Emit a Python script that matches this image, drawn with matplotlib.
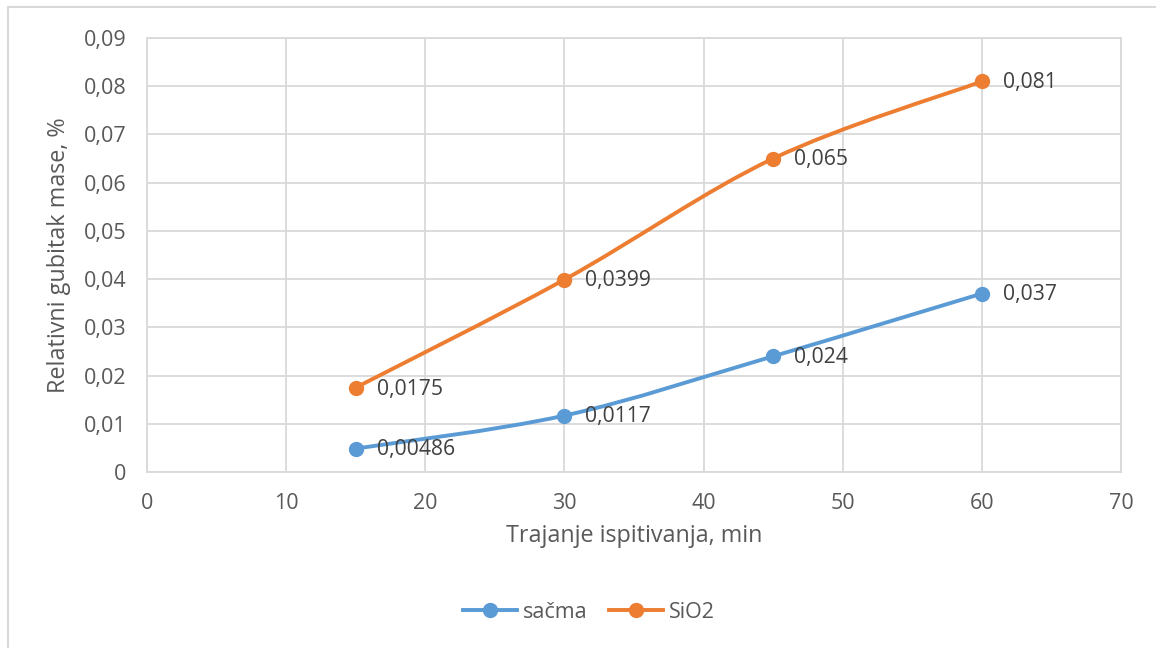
import matplotlib.pyplot as plt
from matplotlib.path import Path
from matplotlib.patches import PathPatch, Rectangle
from matplotlib.lines import Line2D

plt.rcParams['font.family'] = ['Open Sans', 'DejaVu Sans']

# data
x = [15, 30, 45, 60]
sacma = [0.00486, 0.0117, 0.024, 0.037]
sio2 = [0.0175, 0.0399, 0.065, 0.081]
sacma_labels = ['0,00486', '0,0117', '0,024', '0,037']
sio2_labels = ['0,0175', '0,0399', '0,065', '0,081']
xticks = [0, 10, 20, 30, 40, 50, 60, 70]
yticks = [0, 0.01, 0.02, 0.03, 0.04, 0.05, 0.06, 0.07, 0.08, 0.09]
ytick_labels = ['0', '0,01', '0,02', '0,03', '0,04', '0,05', '0,06', '0,07', '0,08', '0,09']

blue = '#5B9BD5'
orange = '#ED7D31'
txt = '#595959'
grid = '#D9D9D9'


def smooth_path(xs, ys):
    # excel-like smoothed line: bezier segments with catmull-rom control points
    pts = list(zip(xs, ys))
    verts = [pts[0]]
    codes = [Path.MOVETO]
    n = len(pts)
    for i in range(n - 1):
        p0 = pts[i - 1] if i > 0 else pts[i]
        p1 = pts[i]
        p2 = pts[i + 1]
        p3 = pts[i + 2] if i + 2 < n else pts[i + 1]
        c1 = (p1[0] + (p2[0] - p0[0]) / 6, p1[1] + (p2[1] - p0[1]) / 6)
        c2 = (p2[0] - (p3[0] - p1[0]) / 6, p2[1] - (p3[1] - p1[1]) / 6)
        verts += [c1, c2, p2]
        codes += [Path.CURVE4] * 3
    return Path(verts, codes)


fig = plt.figure(figsize=(11.56, 6.48), dpi=100)
fig.patches.append(Rectangle((8 / 1156, -0.1), 1.2, 1 - 7 / 648 + 0.1,
                             transform=fig.transFigure, fill=False,
                             edgecolor='#D9D9D9', linewidth=1.5))

ax = fig.add_axes([147 / 1156, 1 - 472 / 648, (1121 - 147) / 1156, (472 - 38) / 648])
ax.set_xlim(0, 70)
ax.set_ylim(0, 0.09)
ax.set_xticks(xticks)
ax.set_yticks(yticks)
ax.set_yticklabels(ytick_labels)
ax.grid(True, color=grid, linewidth=1.3)
ax.set_axisbelow(True)
for s in ax.spines.values():
    s.set_color(grid)
    s.set_linewidth(1.3)
ax.tick_params(length=0, labelsize=15.5, colors=txt)
ax.tick_params(axis='y', pad=15)
ax.tick_params(axis='x', pad=15)

for ys, labs, col, name in [(sacma, sacma_labels, blue, 'sačma'), (sio2, sio2_labels, orange, 'SiO2')]:
    ax.add_patch(PathPatch(smooth_path(x, ys), fill=False, edgecolor=col, linewidth=2.8,
                           capstyle='round', zorder=3))
    ax.plot(x, ys, 'o', color=col, markersize=10, zorder=4)
    for xi, yi, lab in zip(x, ys, labs):
        ax.annotate(lab, (xi, yi), xytext=(15, -1), textcoords='offset points',
                    ha='left', va='center', fontsize=15.2, color='#404040', zorder=5)

ax.set_xlabel('Trajanje ispitivanja, min', fontsize=16.8, color=txt, labelpad=7)
ax.set_ylabel('Relativni gubitak mase, %', fontsize=16.8, color=txt, labelpad=9)

handles = [Line2D([], [], color=blue, marker='o', markersize=10, linewidth=2.8, label='sačma'),
           Line2D([], [], color=orange, marker='o', markersize=10, linewidth=2.8, label='SiO2')]
fig.legend(handles=handles, loc='center', bbox_to_anchor=(589 / 1156, 1 - 612 / 648),
           ncol=2, frameon=False, fontsize=15.5, labelcolor=txt, handlelength=2.5,
           columnspacing=1.0, handletextpad=0.3)

fig.savefig('out.png', dpi=100)
